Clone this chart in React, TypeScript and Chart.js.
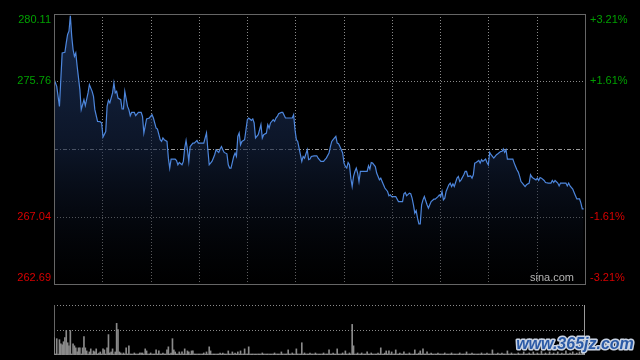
import React, { useEffect, useRef } from "react";
import Chart from "chart.js/auto";

const prevClose = 271.40;
const priceMin = 262.69;
const priceMax = 280.11;
const leftTicks = [280.11, 275.76, 267.04, 262.69];
const rightTickLabels = ["+3.21%", "+1.61%", "-1.61%", "-3.21%"];
const gridDivisions = 11;
const sessionMinutes = 390;

const minutes = [
  0, 2, 4, 6, 8, 9, 10, 11, 12, 13, 14, 15, 16, 17, 19, 20, 22, 23, 25, 26,
  28, 29, 30, 32, 34, 35, 36, 38, 39, 40, 41, 43, 44, 45, 46, 47, 49, 50, 51, 52,
  54, 55, 56, 57, 59, 60, 62, 64, 65, 66, 68, 70, 72, 73, 75, 76, 78, 79, 80, 81,
  83, 84, 85, 86, 89, 90, 91, 92, 94, 95, 96, 97, 98, 99, 100, 102, 103, 105, 106, 108,
  110, 111, 112, 113, 114, 116, 117, 118, 119, 121, 122, 123, 124, 125, 127, 128, 129, 130, 132, 133,
  134, 135, 136, 137, 138, 140, 141, 142, 143, 145, 146, 147, 148, 150, 151, 152, 153, 154, 156, 157,
  158, 159, 161, 162, 163, 164, 165, 167, 168, 170, 172, 173, 175, 176, 177, 178, 179, 180, 182, 183,
  184, 186, 187, 188, 189, 191, 193, 194, 196, 198, 199, 200, 202, 203, 204, 205, 207, 208, 209, 210,
  212, 213, 214, 215, 216, 217, 218, 219, 220, 221, 222, 223, 224, 225, 227, 229, 230, 231, 232, 233,
  234, 235, 236, 237, 239, 240, 241, 242, 243, 245, 246, 247, 248, 250, 251, 253, 254, 256, 257, 258,
  259, 261, 262, 263, 264, 265, 266, 267, 268, 269, 270, 271, 272, 274, 275, 276, 277, 279, 280, 282,
  283, 284, 285, 286, 287, 288, 290, 291, 292, 293, 294, 296, 297, 298, 299, 301, 302, 303, 304, 306,
  307, 308, 309, 310, 312, 313, 314, 315, 317, 318, 319, 320, 321, 323, 324, 325, 326, 328, 329, 330,
  331, 332, 333, 335, 337, 338, 339, 340, 341, 342, 343, 344, 345, 346, 347, 349, 350, 351, 352, 354,
  355, 356, 357, 358, 360, 361, 363, 365, 366, 367, 368, 370, 371, 372, 374, 376, 377, 378, 379, 381,
  382, 383, 384, 386, 387, 388, 389,
];

const prices = [
  275.92, 275.44, 274.15, 277.60, 277.64, 278.25, 278.79, 279.00, 280.00, 278.68, 277.82, 277.38, 277.60, 276.74, 275.23, 273.94, 274.58, 274.20, 275.02, 275.55,
  275.12, 274.80, 273.94, 273.18, 273.16, 273.08, 272.17, 272.53, 274.15, 274.54, 274.37, 275.02, 275.66, 275.02, 275.12, 274.69, 274.58, 273.98, 273.98, 275.12,
  274.15, 273.94, 273.55, 273.76, 273.76, 273.55, 273.76, 273.76, 273.50, 272.43, 273.34, 273.40, 273.61, 273.40, 272.75, 272.69, 272.00, 271.89, 272.11, 272.00,
  271.89, 270.81, 270.17, 270.75, 270.75, 270.66, 270.38, 270.53, 270.38, 270.60, 271.46, 271.95, 271.35, 270.60, 271.56, 271.78, 271.78, 271.95, 271.78, 271.78,
  271.78, 272.11, 272.43, 271.35, 270.38, 270.60, 270.81, 271.03, 271.35, 271.18, 271.40, 271.56, 271.35, 271.18, 271.09, 270.38, 270.17, 270.17, 270.92, 271.14,
  270.92, 272.21, 272.43, 271.67, 271.89, 272.00, 272.64, 273.29, 273.40, 273.25, 273.34, 273.08, 272.11, 272.32, 272.64, 272.97, 272.11, 272.32, 272.43, 272.97,
  272.75, 273.08, 273.29, 273.18, 273.40, 273.50, 273.68, 273.76, 273.76, 273.40, 273.40, 273.40, 273.40, 273.61, 272.64, 272.00, 271.89, 271.46, 270.60, 270.92,
  270.81, 271.35, 270.71, 270.75, 270.92, 270.96, 270.96, 270.81, 270.60, 270.60, 270.71, 270.81, 271.14, 271.56, 271.89, 272.00, 272.21, 271.78, 271.74, 271.56,
  271.14, 270.49, 270.27, 270.17, 270.53, 270.38, 269.52, 268.98, 269.63, 269.95, 270.17, 269.85, 269.30, 269.95, 269.95, 269.95, 269.95, 270.32, 270.10, 270.53,
  270.49, 270.38, 270.27, 269.85, 269.41, 269.52, 269.30, 269.09, 268.88, 268.66, 268.38, 268.44, 268.33, 268.33, 268.33, 268.01, 268.01, 268.01, 268.51, 268.59,
  268.38, 268.55, 268.51, 268.23, 267.80, 267.26, 267.43, 266.94, 266.57, 266.57, 267.80, 268.12, 268.33, 267.80, 267.58, 267.80, 268.01, 268.16, 268.16, 268.33,
  268.44, 268.33, 268.66, 268.12, 268.23, 268.66, 269.09, 269.20, 268.98, 269.15, 268.98, 269.52, 269.63, 269.30, 269.41, 269.74, 269.95, 269.95, 269.63, 269.67,
  269.52, 269.74, 270.49, 270.53, 270.66, 270.49, 270.71, 270.60, 270.75, 270.53, 270.38, 271.18, 271.03, 270.81, 270.92, 271.03, 271.09, 271.24, 271.24, 271.40,
  271.18, 271.35, 270.75, 270.75, 270.75, 270.49, 270.27, 270.06, 269.91, 269.63, 269.30, 269.20, 269.09, 268.98, 269.09, 269.20, 269.74, 269.59, 269.52, 269.41,
  269.52, 269.37, 269.56, 269.52, 269.37, 269.24, 269.20, 269.20, 269.37, 269.24, 269.37, 269.20, 269.02, 269.20, 269.20, 269.20, 269.02, 269.20, 269.02, 268.81,
  268.59, 268.38, 268.18, 268.18, 267.91, 267.54, 267.54,
];

// volume per minute (thousand shares)
const volumes = [
  17, 1, 16, 1, 15, 11, 10, 13, 17, 24,
  12, 9, 24, 1, 11, 9, 7, 3, 7, 7,
  1, 7, 18, 7, 4, 1, 3, 6, 1, 4,
  3, 6, 1, 2, 3, 1, 6, 5, 1, 7,
  20, 2, 3, 6, 1, 3, 31, 25, 3, 2,
  1, 2, 1, 7, 1, 9, 1, 1, 1, 2,
  1, 1, 1, 2, 2, 2, 1, 6, 4, 1,
  1, 2, 1, 1, 1, 5, 1, 4, 1, 1,
  2, 1, 1, 5, 8, 1, 2, 16, 5, 3,
  1, 1, 3, 1, 3, 1, 6, 1, 4, 3,
  1, 4, 4, 1, 1, 1, 1, 1, 1, 1,
  2, 1, 3, 1, 8, 4, 1, 1, 1, 1,
  1, 1, 2, 1, 2, 1, 1, 1, 4, 1,
  1, 3, 1, 2, 1, 3, 1, 4, 1, 1,
  6, 1, 1, 8, 1, 1, 1, 1, 1, 1,
  1, 1, 1, 2, 1, 1, 1, 1, 1, 1,
  1, 1, 2, 1, 1, 1, 1, 3, 1, 1,
  1, 1, 5, 1, 1, 2, 1, 1, 6, 1,
  1, 1, 12, 1, 2, 1, 1, 1, 2, 1,
  1, 1, 2, 1, 1, 1, 1, 1, 2, 1,
  1, 1, 5, 1, 1, 2, 1, 1, 6, 1,
  1, 1, 2, 1, 4, 1, 1, 2, 1, 30,
  9, 1, 1, 2, 1, 1, 2, 1, 1, 1,
  3, 1, 1, 2, 1, 1, 1, 1, 2, 1,
  7, 1, 1, 2, 4, 1, 4, 1, 3, 1,
  1, 5, 1, 1, 2, 1, 1, 3, 1, 1,
  1, 2, 1, 1, 1, 5, 1, 1, 2, 4,
  1, 6, 1, 1, 3, 1, 1, 2, 1, 1,
  1, 1, 2, 1, 1, 1, 1, 2, 1, 1,
  1, 1, 2, 1, 1, 1, 1, 1, 2, 1,
  1, 1, 1, 3, 1, 1, 1, 2, 1, 1,
  1, 1, 1, 1, 2, 1, 1, 1, 2, 1,
  1, 1, 5, 1, 1, 1, 2, 1, 1, 2,
  1, 1, 1, 4, 1, 1, 2, 1, 1, 1,
  1, 2, 1, 1, 1, 3, 1, 1, 1, 2,
  1, 1, 3, 1, 1, 2, 1, 1, 4, 1,
  1, 2, 1, 1, 3, 1, 1, 2, 1, 1,
  3, 1, 1, 2, 1, 1, 4, 1, 1, 2,
  1, 3, 1, 1, 2, 1, 3, 1, 4, 6,
];
const volumeMax = 49;

const GREEN = "#00a000";
const RED = "#d80000";
const BORDER = "#666666";
const GRID = "#8a8a8a";
const FONT = '11px "Liberation Sans", Arial, sans-serif';

function hLine(ctx: CanvasRenderingContext2D, x1: number, x2: number, y: number, dash: number[], color: string) {
  ctx.save();
  ctx.strokeStyle = color;
  ctx.lineWidth = 1;
  ctx.setLineDash(dash);
  ctx.beginPath();
  const yy = Math.round(y) + 0.5;
  ctx.moveTo(x1, yy);
  ctx.lineTo(x2, yy);
  ctx.stroke();
  ctx.restore();
}
function vLine(ctx: CanvasRenderingContext2D, x: number, y1: number, y2: number, dash: number[], color: string) {
  ctx.save();
  ctx.strokeStyle = color;
  ctx.lineWidth = 1;
  ctx.setLineDash(dash);
  ctx.beginPath();
  const xx = Math.round(x) + 0.5;
  ctx.moveTo(xx, y1);
  ctx.lineTo(xx, y2);
  ctx.stroke();
  ctx.restore();
}

const priceDecor = {
  id: "priceDecor",
  beforeDatasetsDraw(chart: any) {
    const { ctx, chartArea: a, scales } = chart;
    const x = scales.x;
    const y = scales.y;
    for (let i = 1; i < gridDivisions; i++) {
      const px = x.getPixelForValue((i * sessionMinutes) / gridDivisions);
      vLine(ctx, px, a.top, a.bottom, [1, 2], GRID);
    }
    leftTicks.forEach((t) => {
      if (t === priceMax || t === priceMin) return;
      hLine(ctx, a.left, a.right, y.getPixelForValue(t), [1, 2], GRID);
    });
    hLine(ctx, a.left, a.right, y.getPixelForValue(prevClose), [4, 2, 1, 2], "#9a9a9a");
  },
  afterDraw(chart: any) {
    const { ctx, chartArea: a, scales } = chart;
    const y = scales.y;
    ctx.save();
    ctx.strokeStyle = BORDER;
    ctx.lineWidth = 1;
    ctx.setLineDash([]);
    ctx.strokeRect(Math.round(a.left) + 0.5, Math.round(a.top) + 0.5, Math.round(a.right - a.left), Math.round(a.bottom - a.top));
    ctx.font = FONT;
    ctx.textBaseline = "middle";
    leftTicks.forEach((t, i) => {
      let py = y.getPixelForValue(t);
      py = Math.min(Math.max(py, a.top + 6), a.bottom - 6);
      ctx.fillStyle = t > prevClose ? GREEN : RED;
      ctx.textAlign = "right";
      ctx.fillText(t.toFixed(2), a.left - 3, py);
      ctx.textAlign = "left";
      ctx.fillText(rightTickLabels[i], a.right + 5, py);
    });
    ctx.fillStyle = "#b4b4b4";
    ctx.textAlign = "right";
    ctx.fillText("sina.com", a.right - 11, a.bottom - 6);
    ctx.restore();
  },
};

const volumeDecor = {
  id: "volumeDecor",
  beforeDatasetsDraw(chart: any) {
    const { ctx, chartArea: a, scales } = chart;
    hLine(ctx, a.left, a.right, a.top, [1, 2], GRID);
    hLine(ctx, a.left, a.right, scales.y.getPixelForValue(volumeMax / 2), [1, 2], GRID);
    vLine(ctx, a.left, a.top, a.bottom, [], BORDER);
    vLine(ctx, a.right - 1, a.top, a.bottom, [], "#9a9a9a");
  },
  afterDraw(chart: any) {
    const { ctx, chartArea: a } = chart;
    ctx.save();
    ctx.font = 'bold italic 16px "Liberation Sans", Arial, sans-serif';
    ctx.textAlign = "center";
    ctx.textBaseline = "middle";
    ctx.lineJoin = "round";
    ctx.lineWidth = 3;
    ctx.strokeStyle = "#c9d3e3";
    ctx.strokeText("www.365jz.com", a.right - 10, a.bottom - 10);
    ctx.fillStyle = "#2b5aa6";
    ctx.fillText("www.365jz.com", a.right - 10, a.bottom - 10);
    ctx.restore();
  },
};

export default function App() {
  const priceRef = useRef<HTMLCanvasElement>(null);
  const volRef = useRef<HTMLCanvasElement>(null);

  useEffect(() => {
    document.body.style.margin = "0";
    document.body.style.background = "#000";
    const pc = new Chart(priceRef.current!, {
      type: "line",
      data: {
        datasets: [
          {
            data: minutes.map((m, i) => ({ x: m, y: prices[i] })),
            borderColor: "#4d86dc",
            borderWidth: 1.2,
            pointRadius: 0,
            tension: 0,
            fill: "start",
            backgroundColor: (c: any) => {
              const a = c.chart.chartArea;
              if (!a) return "rgba(0,0,0,0)";
              const g = c.chart.ctx.createLinearGradient(0, a.top, 0, a.bottom);
              g.addColorStop(0, "rgba(30,55,100,0.75)");
              g.addColorStop(0.5, "rgba(20,35,65,0.6)");
              g.addColorStop(1, "rgba(0,0,0,0.3)");
              return g;
            },
          },
        ],
      },
      options: {
        animation: false,
        responsive: false,
        devicePixelRatio: 1,
        events: [],
        layout: { padding: { left: 54, right: 55, top: 14, bottom: 8 } },
        plugins: { legend: { display: false }, tooltip: { enabled: false } },
        scales: {
          x: { type: "linear", min: 0, max: sessionMinutes, display: false },
          y: { min: priceMin, max: priceMax, display: false },
        },
      },
      plugins: [priceDecor],
    });
    const vc = new Chart(volRef.current!, {
      type: "bar",
      data: {
        datasets: [
          {
            data: volumes.map((v, i) => ({ x: i, y: v })),
            backgroundColor: "#8a8a8a",
            barThickness: 1,
          },
        ],
      },
      options: {
        animation: false,
        responsive: false,
        devicePixelRatio: 1,
        events: [],
        layout: { padding: { left: 54, right: 55, top: 13, bottom: 5 } },
        plugins: { legend: { display: false }, tooltip: { enabled: false } },
        scales: {
          x: { type: "linear", min: 0, max: sessionMinutes, display: false, offset: false },
          y: { min: 0, max: volumeMax, display: false },
        },
      },
      plugins: [volumeDecor],
    });
    return () => {
      pc.destroy();
      vc.destroy();
    };
  }, []);

  return (
    <div style={{ position: "relative", width: 640, height: 360, background: "#000", overflow: "hidden" }}>
      <canvas ref={priceRef} width={640} height={292} style={{ position: "absolute", left: 0, top: 0, width: 640, height: 292 }} />
      <canvas ref={volRef} width={640} height={68} style={{ position: "absolute", left: 0, top: 292, width: 640, height: 68 }} />
    </div>
  );
}
